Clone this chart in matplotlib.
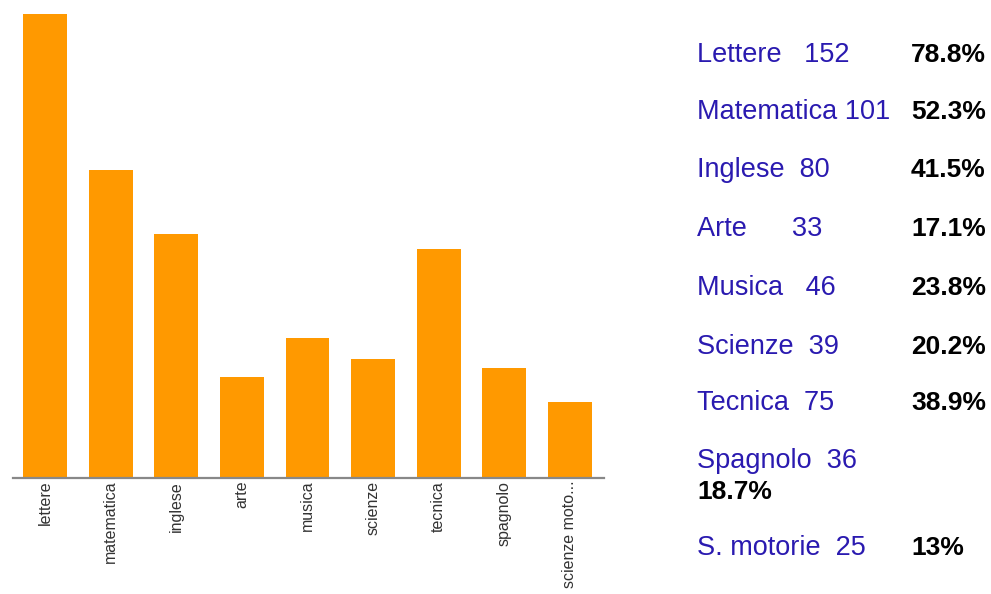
import matplotlib
matplotlib.use("Agg")
import matplotlib.pyplot as plt
import numpy as np

# materie e numero di preferenze
materie = ["lettere", "matematica", "inglese", "arte", "musica",
           "scienze", "tecnica", "spagnolo", "scienze moto..."]
voti = [152, 101, 80, 33, 46, 39, 75, 36, 25]

# legenda a destra
voci = ["Lettere   152", "Matematica 101", "Inglese  80", "Arte      33",
        "Musica   46", "Scienze  39", "Tecnica  75", "Spagnolo  36",
        "S. motorie  25"]
percentuali = ["78.8%", "52.3%", "41.5%", "17.1%", "23.8%",
               "20.2%", "38.9%", "18.7%", "13%"]

W, H = 991, 594
fig = plt.figure(figsize=(W / 100, H / 100), dpi=100)

# area del grafico in pixel: asse x da 13 a 604, base a 478, cima a 14
ax = fig.add_axes([13 / W, (H - 478) / H, (604 - 13) / W, (478 - 14) / H])
x = np.arange(len(materie))
ax.bar(x, voti, width=0.67, color="#ff9900", zorder=2)
ax.set_xlim(-0.49, len(materie) - 1 + 0.52)
ax.set_ylim(0, max(voti))
for s in ["top", "right", "left"]:
    ax.spines[s].set_visible(False)
ax.spines["bottom"].set_color("#888888")
ax.spines["bottom"].set_linewidth(1.6)
ax.set_yticks([])
ax.set_xticks(x)
ax.set_xticklabels(materie, rotation=90, va="top", ha="center",
                   family="Liberation Sans", fontsize=11.5, color="#333333")
ax.tick_params(axis="x", length=0, pad=2)

# testo a destra
blu = "#2a1ab0"
righe_y = [55, 112, 170, 229, 288, 347, 403, 461, 548]
for i, (v, p) in enumerate(zip(voci, percentuali)):
    yy = 1 - righe_y[i] / H
    fig.text(697 / W, yy, v, color=blu, fontsize=19.5,
             family="Liberation Sans", va="center", ha="left")
    if i == 7:
        fig.text(697 / W, 1 - 492 / H, p, color="black", fontsize=19,
                 fontweight="bold", family="Liberation Sans",
                 va="center", ha="left")
    else:
        fig.text(911 / W, yy, p, color="black", fontsize=19,
                 fontweight="bold", family="Liberation Sans",
                 va="center", ha="left")

fig.savefig("out.png", dpi=100, facecolor="white")
